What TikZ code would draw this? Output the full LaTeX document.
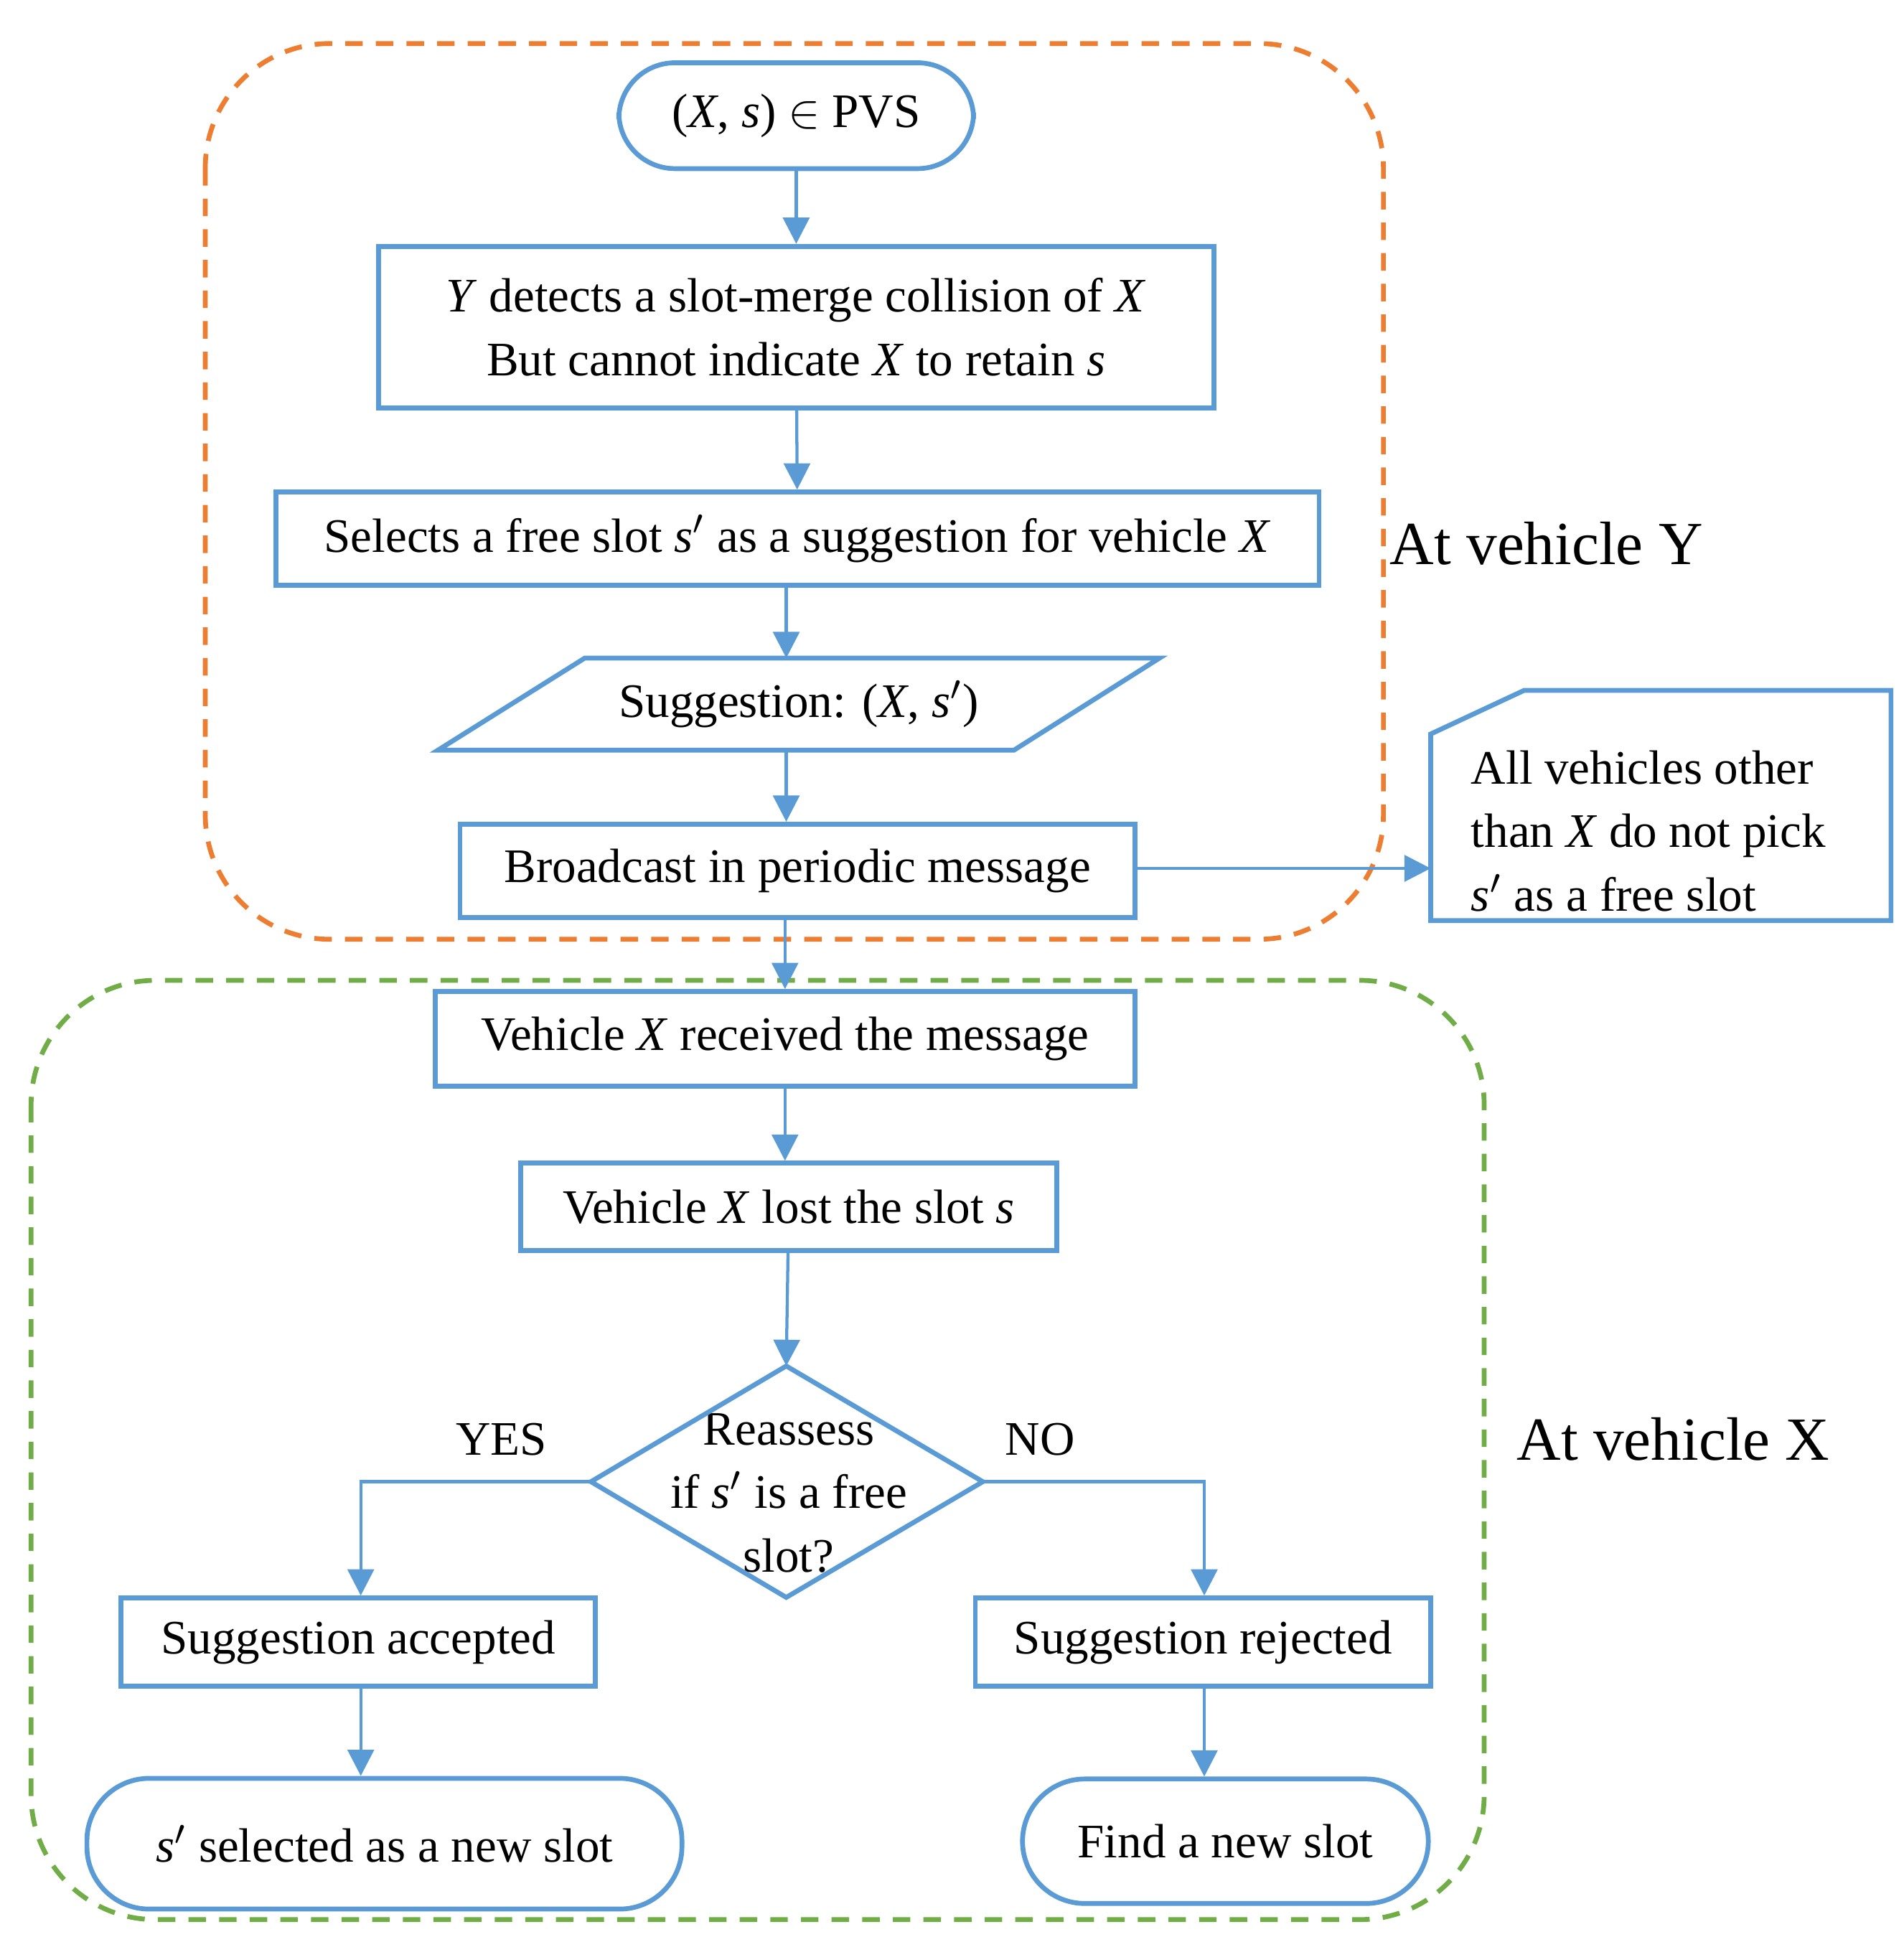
\documentclass[tikz,border=0pt]{standalone}
\usepackage{fontspec}
\setmainfont{Liberation Serif}
\usetikzlibrary{arrows.meta}
\definecolor{flowblue}{RGB}{91,155,213}
\definecolor{zoneorange}{RGB}{237,125,49}
\definecolor{zonegreen}{RGB}{112,173,71}
\begin{document}
\begin{tikzpicture}[x=0.01cm, y=-0.01cm,
  font=\fontsize{11}{14.5}\selectfont,
  box/.style = {draw=flowblue, line width=1.1pt, rectangle, align=center, inner sep=0pt},
  term/.style = {draw=flowblue, line width=1.1pt, rectangle, rounded corners=0.45cm, inner sep=0pt},
  zone/.style = {line width=1.1pt, rounded corners=1cm, dash pattern=on 4pt off 3pt},
  flow/.style = {-{Triangle[length=6pt,width=6pt,fill=flowblue]}, draw=flowblue, line width=0.7pt}]

        \useasboundingbox (0,0) rectangle (1530,1557);
        % zones
        \draw[zone, zoneorange] (165,35) rectangle (1112,755);
        \draw[zone, zonegreen] (25,788) rectangle (1193,1543);

        \node[term, minimum width=2.85cm, minimum height=0.85cm] (start) at (640,93) {(\textit{X}, \textit{s}) $\in$ PVS};
        \node[box, minimum width=6.71cm, minimum height=1.30cm] (detect) at (640,263) {\textit{Y} detects a slot-merge collision of \textit{X}\\But cannot indicate \textit{X} to retain \textit{s}};
        \node[box, minimum width=8.38cm, minimum height=0.75cm] (select) at (641,433) {Selects a free slot \textit{s}$'$ as a suggestion for vehicle \textit{X}};
        \node (sug) at (642,566) {Suggestion: (\textit{X}, \textit{s}$'$)};
        \draw[flowblue, line width=1.1pt] (352,603) -- (470,529) -- (932,529) -- (815,603) -- cycle;
        \coordinate (sugtop) at (632,529);
        \coordinate (sugbot) at (632,603);
        \node[box, minimum width=5.42cm, minimum height=0.75cm] (bcast) at (641,700) {Broadcast in periodic message};
        \node[align=left] (note) at (1325,668) {All vehicles other\\than \textit{X} do not pick\\\textit{s}$'$ as a free slot};
        \draw[flowblue, line width=1.1pt] (1150,590) -- (1225,555) -- (1520,555) -- (1520,740) -- (1150,740) -- cycle;
        \coordinate (noteleft) at (1150,698);

        \node[box, minimum width=5.62cm, minimum height=0.76cm] (recv) at (631,835) {Vehicle \textit{X} received the message};
        \node[box, minimum width=4.31cm, minimum height=0.70cm] (lost) at (634,970) {Vehicle \textit{X} lost the slot \textit{s}};
        \node[align=center] (reassess) at (634,1200) {Reassess\\if \textit{s}$'$ is a free\\slot?};
        \coordinate (dtop) at (632,1098);
        \coordinate (dleft) at (475,1191);
        \coordinate (dright) at (790,1191);
        \coordinate (dbot) at (632,1284);
        \draw[flowblue, line width=1.1pt] (dtop) -- (dright) -- (dbot) -- (dleft) -- cycle;
        \node[box, minimum width=3.81cm, minimum height=0.71cm] (accept) at (288,1320) {Suggestion accepted};
        \node[box, minimum width=3.66cm, minimum height=0.71cm] (reject) at (967,1320) {Suggestion rejected};
        \node[term, minimum width=4.78cm, minimum height=1.05cm, rounded corners=0.5cm] (newleft) at (309,1482) {\textit{s}$'$ selected as a new slot};
        \node[term, minimum width=3.26cm, minimum height=1.00cm, rounded corners=0.5cm] (newright) at (985,1480) {Find a new slot};

        \node[font=\fontsize{14}{17}\selectfont] (aty) at (1243,437) {At vehicle Y};
        \node[font=\fontsize{14}{17}\selectfont] (atx) at (1345,1157) {At vehicle X};
        \node (yes) at (403,1157) {YES};
        \node (no) at (836,1157) {NO};

        \draw[flow] (start) -- (detect);
        \draw[flow] (detect) -- (select);
        \draw[flow] (select.south -| sugtop) -- (sugtop);
        \draw[flow] (sugbot) -- (bcast.north -| sugbot);
        \draw[flow] (bcast.east |- noteleft) -- (noteleft);
        \draw[flow] (bcast.south -| recv) -- (recv);
        \draw[flow] (recv) -- (recv.south |- lost.north);
        \draw[flow] (lost) -- (dtop);
        \draw[flow] (dleft) -| (accept.north -| 290,0);
        \draw[flow] (dright) -| (reject.north -| 968,0);
        \draw[flow] (accept.south -| 290,0) -- (newleft.north -| 290,0);
        \draw[flow] (reject.south -| 968,0) -- (newright.north -| 968,0);
\end{tikzpicture}
\end{document}
